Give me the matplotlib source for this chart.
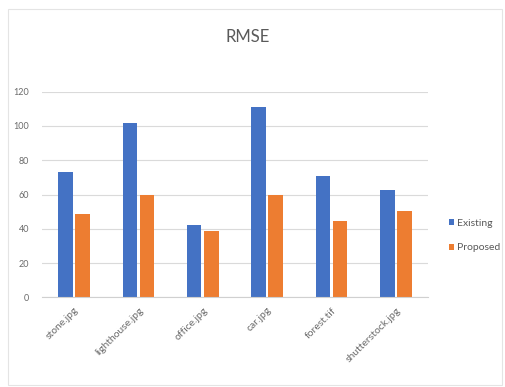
import numpy as np
import matplotlib.pyplot as plt
from matplotlib.patches import Rectangle

# Données RMSE
categories = ['stone.jpg', 'lighthouse.jpg', 'office.jpg', 'car.jpg', 'forest.tif', 'shutterstock.jpg']
existing = [73, 101.6, 42, 111, 71, 62.4]
proposed = [48.5, 60, 38.6, 60, 44.3, 50.2]

plt.rcParams['font.family'] = ['Lato', 'DejaVu Sans']

fig = plt.figure(figsize=(5.05, 3.87), dpi=100)
ax = fig.add_axes([0.0826, 0.2318, 0.7654, 0.5312])

# cadre du graphique
fig.patches.append(Rectangle((0.016, 0.005), 0.978, 0.972, transform=fig.transFigure,
                             fill=False, edgecolor='#e4e4e4', linewidth=0.8))

x = np.arange(len(categories))
w = 0.225
ax.bar(x - w / 2 - 0.02, existing, w, color='#4472c4', label='Existing')
ax.bar(x + w / 2 + 0.02, proposed, w, color='#ed7d31', label='Proposed')

ax.set_xlim(-0.5, len(categories) - 0.5)
ax.set_ylim(0, 120)
ax.set_yticks(range(0, 121, 20))
ax.yaxis.grid(True, color='#dadada', linewidth=0.8)
ax.set_axisbelow(True)
for s in ['top', 'right', 'left']:
    ax.spines[s].set_visible(False)
ax.spines['bottom'].set_color('#d0d0d0')
ax.tick_params(length=0, labelsize=6.5, labelcolor='#6b6b6b')
ax.tick_params(axis='y', pad=9)
ax.tick_params(axis='x', labelsize=7.5, pad=6)
ax.set_xticks(x)
ax.set_xticklabels(categories, rotation=45, ha='right', rotation_mode='anchor')

fig.text(0.49, 0.905, 'RMSE', ha='center', va='center', fontsize=12, color='#5a5a5a')

ax.legend(loc='center left', bbox_to_anchor=(1.03, 0.3), frameon=False, fontsize=7.5,
          labelcolor='#595959', handlelength=0.5, handleheight=0.5, handletextpad=0.2,
          labelspacing=1.5)

plt.savefig('out.png', dpi=100)
